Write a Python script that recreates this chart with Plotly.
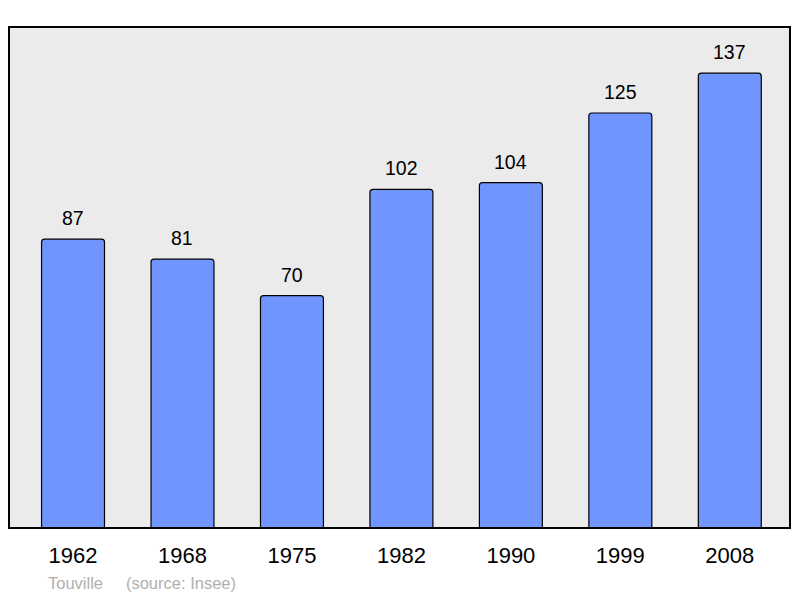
import plotly.graph_objects as go

years = ["1962", "1968", "1975", "1982", "1990", "1999", "2008"]
population = [87, 81, 70, 102, 104, 125, 137]

positions = list(range(len(years)))

fig = go.Figure()
fig.add_trace(go.Bar(
    x=positions, y=population, width=0.575,
    marker=dict(color="#7095ff", line=dict(color="#000000", width=1.2), cornerradius=3),
    hoverinfo="skip",
))

for p, v in zip(positions, population):
    fig.add_annotation(x=p, y=v, text=str(v), showarrow=False, yanchor="bottom", yshift=8,
                       font=dict(size=19.5, color="#000000", family="Liberation Sans, Arial"))

fig.add_annotation(xref="paper", yref="paper", x=0.047, y=-0.11, xanchor="left", yanchor="middle",
                   text="Touville&nbsp;&nbsp;&nbsp;&nbsp;&nbsp;(source: Insee)", showarrow=False,
                   font=dict(size=16.5, color="#b0b0b0", family="Liberation Sans, Arial"))

fig.add_shape(type="rect", xref="paper", yref="paper", x0=0, x1=1, y0=0, y1=1,
              line=dict(color="#000000", width=2), layer="above")

fig.update_layout(
    width=792, height=590,
    margin=dict(l=1, r=10, t=19, b=70, pad=0),
    paper_bgcolor="#ffffff", plot_bgcolor="#ebebeb",
    showlegend=False,
    font=dict(family="Liberation Sans, Arial", color="#000000"),
    xaxis=dict(range=[-0.585, 6.55], tickvals=positions, ticktext=years, showgrid=False,
               zeroline=False, ticks="outside", ticklen=8, tickcolor="rgba(0,0,0,0)",
               tickfont=dict(size=22, color="#000000")),
    yaxis=dict(range=[0, 150.9], showgrid=False, zeroline=False, showticklabels=False, ticks=""),
)

fig.write_html("out.html")
